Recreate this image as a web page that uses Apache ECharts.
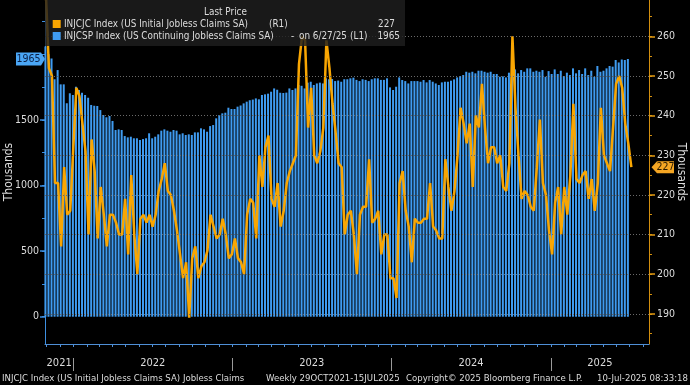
<!DOCTYPE html>
<html><head><meta charset="utf-8">
<script src="https://cdn.jsdelivr.net/npm/echarts@6/dist/echarts.min.js"></script>
<style>html,body{margin:0;padding:0;background:#000;}#c{width:690px;height:385px;}</style>
</head><body><div id="c"></div>
<script>
// ---- data ----
const barStart = '2021-10-29';   // INJCSP weekly (Continuing claims, thousands, left axis)
const lineStart = '2021-10-30';  // INJCJC weekly (Initial claims, thousands, right axis)
const continuingClaims = [2060,2000,1969,1810,1880,1771,1771,1627,1703,1690,
1753,1728,1707,1690,1669,1614,1608,1606,1575,1537,
1520,1530,1492,1423,1428,1423,1377,1367,1372,1360,
1360,1347,1354,1360,1398,1360,1372,1390,1418,1428,
1418,1410,1423,1418,1390,1398,1385,1390,1385,1405,
1405,1436,1428,1410,1453,1461,1512,1537,1550,1555,
1593,1583,1583,1601,1610,1626,1639,1650,1655,1664,
1657,1690,1695,1700,1715,1740,1730,1707,1705,1708,
1740,1728,1740,1766,1760,1740,1784,1791,1766,1778,
1784,1778,1817,1810,1812,1796,1800,1791,1810,1810,
1817,1822,1805,1796,1810,1805,1796,1810,1817,1817,
1805,1805,1817,1748,1728,1753,1824,1804,1796,1778,
1796,1796,1796,1791,1804,1786,1804,1791,1778,1766,
1786,1791,1791,1799,1809,1824,1834,1842,1867,1860,
1867,1855,1875,1875,1867,1860,1867,1850,1850,1829,
1832,1824,1860,1855,1885,1855,1880,1867,1893,1893,
1867,1875,1867,1880,1829,1872,1850,1885,1850,1875,
1834,1860,1842,1893,1855,1880,1850,1893,1842,1875,
1829,1911,1867,1875,1893,1911,1906,1956,1938,1961,
1956,1965];
const initialClaims = [271,252,250,223,223,207,227,215,216,232,
247,245,238,231,210,234,226,209,222,215,
207,215,215,213,210,210,219,205,225,210,
200,214,215,213,215,212,215,221,224,228,
221,220,216,211,205,199,203,189,204,207,
199,202,203,206,215,212,209,210,214,210,
204,205,209,204,203,200,215,219,218,209,
230,222,232,235,219,217,223,212,216,223,
226,228,230,253,260,259,237,247,230,228,
231,237,259,252,243,236,228,227,210,215,
216,210,200,215,217,217,229,213,214,216,
205,210,210,199,199,194,223,226,216,212,
203,214,213,213,214,214,223,212,211,209,
209,229,222,216,221,230,242,238,233,238,
222,240,237,248,237,228,232,232,228,230,
222,221,228,260,242,230,219,221,220,217,
216,227,239,223,220,211,205,218,222,210,
222,215,225,243,224,223,225,226,219,224,
216,223,242,230,228,226,237,248,250,247,
238,233,227];
const leftTicks = [0,250,500,750,1000,1250,1500,1750,2000,2250];
const leftLabels = [0,500,1000,1500];
const rightTicks = [185,190,195,200,205,210,215,220,225,230,235,240,245,250,255,260,265];
const rightLabels = [190,200,210,220,230,240,250,260];
const years = [2021,2022,2023,2024,2025];
const lastBarLabel = '1965', lastLineLabel = '227';

// ---- helpers ----
const DAY = 86400000;
function weekly(start, n){ const t0 = Date.parse(start+'T00:00:00Z'); const a=[]; for(let i=0;i<n;i++) a.push(t0+i*7*DAY); return a; }
const barDates = weekly(barStart, continuingClaims.length);
const lineDates = weekly(lineStart, initialClaims.length);
const barData = barDates.map((t,i)=>[t, continuingClaims[i]]);
const lineData = lineDates.map((t,i)=>[t, initialClaims[i]]);

const X_MIN = Date.UTC(2021,9,28), X_MAX = Date.UTC(2025,7,14,12);
const L_MIN = -208, L_MAX = 2414;
const R_MIN = 182.38, R_MAX = 269.18;

const monthStarts = [];
for (let y=2021; y<=2025; y++) for (let m=0;m<12;m++){ const t=Date.UTC(y,m,1); if(t>=X_MIN && t<=X_MAX) monthStarts.push(t); }
const yearStarts = years.slice(1).map(y=>Date.UTC(y,0,1));
const yearMids = years.map(y=>{ const a=Math.max(Date.UTC(y,0,1),X_MIN), b=Math.min(Date.UTC(y+1,0,1),X_MAX); return (a+b)/2; });

const cvs = document.createElement('canvas').getContext('2d');
function avail(f){ const s='INJCJC Index wi 1234'; cvs.font='40px monospace'; const a=cvs.measureText(s).width; cvs.font='40px "'+f+'", monospace'; const b=cvs.measureText(s).width; return Math.abs(a-b)>0.5; }
const FAM = ['Liberation Sans Narrow','DejaVu Sans Condensed','Liberation Sans','Arimo'].find(avail) || 'sans-serif';
function fit(text, width){ cvs.font='20px "'+FAM+'"'; const w=cvs.measureText(text).width; return Math.max(8, Math.min(12.5, 20*width/w)); }

const BLUE = '#3f9bf0', ORANGE = '#f9a602', TXT = '#dcdcdc';

const chart = echarts.init(document.getElementById('c'), null, {renderer:'canvas'});
const option = {
  backgroundColor:'#000',
  animation:false,
  textStyle:{fontFamily:FAM},
  grid:[
    {left:45,right:41,top:0,bottom:41,containLabel:false,outerBoundsMode:'none'},
    {left:45,right:41,top:0,bottom:41,containLabel:false,outerBoundsMode:'none'}
  ],
  xAxis:[
    {type:'value',gridIndex:0,position:'bottom',min:X_MIN,max:X_MAX,
     axisLine:{show:true,onZero:false,lineStyle:{color:'#4f8fd6',width:1}},
     axisTick:{show:true,customValues:monthStarts,length:3,lineStyle:{color:'#4f8fd6'}},
     axisLabel:{show:true,customValues:yearMids,formatter:v=>String(new Date(v).getUTCFullYear()),color:TXT,fontSize:11,margin:14,fontFamily:FAM},
     splitLine:{show:false}},
    {type:'value',gridIndex:1,position:'bottom',offset:14,min:X_MIN,max:X_MAX,
     axisLine:{show:false,onZero:false},
     axisTick:{show:true,customValues:yearStarts,length:13,lineStyle:{color:'#9a9a9a'}},
     axisLabel:{show:false},splitLine:{show:false}}
  ],
  yAxis:[
    {type:'value',gridIndex:0,position:'left',min:L_MIN,max:L_MAX,
     axisLine:{show:true,onZero:false,lineStyle:{color:'#3d8fe0'}},
     axisTick:{show:true,customValues:leftTicks,length:3,lineStyle:{color:'#3d8fe0'}},
     axisLabel:{show:true,customValues:leftLabels,formatter:v=>String(v),color:TXT,fontSize:10.5,margin:6,fontFamily:FAM},
     splitLine:{show:false},
     name:'Thousands',nameLocation:'middle',nameRotate:90,nameGap:30,nameMoveOverlap:false,
     nameTextStyle:{color:TXT,fontSize:12,fontFamily:FAM}},
    {type:'value',gridIndex:0,position:'right',min:R_MIN,max:R_MAX,
     axisLine:{show:true,onZero:false,lineStyle:{color:'#d28e0e'}},
     axisTick:{show:true,customValues:rightTicks,length:3,lineStyle:{color:'#d28e0e'}},
     axisLabel:{show:true,customValues:rightLabels,formatter:v=>String(v),color:TXT,fontSize:10.5,margin:8,fontFamily:FAM},
     splitLine:{show:false},
     name:'Thousands',nameLocation:'middle',nameRotate:-90,nameGap:26,nameMoveOverlap:false,
     nameTextStyle:{color:TXT,fontSize:12,fontFamily:FAM}},
    {type:'value',gridIndex:1,position:'right',min:R_MIN,max:R_MAX,
     axisLine:{show:false,onZero:false},
     axisTick:{show:true,customValues:rightLabels,length:6,lineStyle:{color:'#e39a10',width:1.5}},
     axisLabel:{show:false},splitLine:{show:false}},
    {type:'value',gridIndex:1,position:'left',min:L_MIN,max:L_MAX,
     axisLine:{show:false,onZero:false},
     axisTick:{show:true,customValues:leftLabels,length:5,lineStyle:{color:'#3d8fe0',width:1.5}},
     axisLabel:{show:false},splitLine:{show:false}}
  ],
  series:[
    {name:'INJCSP',type:'bar',xAxisIndex:0,yAxisIndex:0,data:barData,barWidth:2,
     itemStyle:{color:BLUE},z:2,silent:true},
    {name:'grid',type:'line',xAxisIndex:0,yAxisIndex:1,data:[],z:3,silent:true,
     markLine:{silent:true,symbol:['none','none'],label:{show:false},animation:false,
       lineStyle:{color:'#6a6a6a',type:[1,2],width:1},
       data:rightLabels.map(v=>({yAxis:v}))}},
    {name:'INJCJC',type:'line',xAxisIndex:0,yAxisIndex:1,data:lineData,showSymbol:false,
     lineStyle:{color:ORANGE,width:2.5},itemStyle:{color:ORANGE},z:4,silent:true,clip:true}
  ]
};
chart.setOption(option);

// ---- annotations (legend, footer, last-value badges) ----
const yL = chart.convertToPixel({yAxisIndex:0}, continuingClaims[continuingClaims.length-1]);
const yR = chart.convertToPixel({yAxisIndex:1}, initialClaims[initialClaims.length-1]);
const xL = chart.convertToPixel({xAxisIndex:0}, X_MIN);
const xR = chart.convertToPixel({xAxisIndex:0}, X_MAX);

const legFs = 0.95 * fit('INJCJC Index (US Initial Jobless Claims SA)', 194);
const footFs = 0.94 * fit('INJCJC Index (US Initial Jobless Claims SA) Jobless Claims', 258);
function T(text,x,y,opt){ opt=opt||{}; return {type:'text',x:x,y:y,z:opt.z||101,silent:true,
  style:{text:text,fill:opt.fill||TXT,font:(opt.fs||legFs)+'px "'+FAM+'"',textAlign:opt.align||'left',textVerticalAlign:'middle'}}; }

const graphics = [
  {type:'rect',z:100,silent:true,shape:{x:xL,y:0,width:360,height:46},style:{fill:'rgba(30,30,30,0.82)'}},
  T('Last Price',225.5,12.5,{align:'center'}),
  {type:'rect',z:101,silent:true,shape:{x:52.7,y:20,width:8,height:8},style:{fill:ORANGE}},
  T('INJCJC Index (US Initial Jobless Claims SA)',64,24.3),
  T('(R1)',269,24.3),
  T(lastLineLabel,395,24.3,{align:'right'}),
  {type:'rect',z:101,silent:true,shape:{x:52.7,y:32,width:8,height:8},style:{fill:BLUE}},
  T('INJCSP Index (US Continuing Jobless Claims SA)',64,36.3),
  T('-',291,36.3),
  T('on 6/27/25',299,36.3),
  T('(L1)',350,36.3),
  T(lastBarLabel,400,36.3,{align:'right'}),
  // footer
  T('INJCJC Index (US Initial Jobless Claims SA) Jobless Claims',2,379,{fs:footFs}),
  T('Weekly 29OCT2021-15JUL2025',266,379,{fs:footFs}),
  T('Copyright\u00a9 2025 Bloomberg Finance L.P.',406,379,{fs:footFs}),
  T('10-Jul-2025 08:33:18',688,379,{fs:footFs,align:'right'}),
  // last value badges
  {type:'polygon',z:102,silent:true,shape:{points:[[16,yL-6.5],[41,yL-6.5],[xL,yL],[41,yL+6.5],[16,yL+6.5]]},style:{fill:'#4aa6f5'}},
  T(lastBarLabel,28.5,yL,{align:'center',fill:'#0b1f45',fs:10.5,z:103}),
  {type:'polygon',z:102,silent:true,shape:{points:[[xR+2.5,yR],[xR+8,yR-6],[xR+25,yR-6],[xR+25,yR+6],[xR+8,yR+6]]},style:{fill:'#f5a623'}},
  T(lastLineLabel,xR+16.5,yR,{align:'center',fill:'#2a1a00',fs:10.5,z:103})
];
chart.setOption({graphic:graphics});
</script></body></html>
